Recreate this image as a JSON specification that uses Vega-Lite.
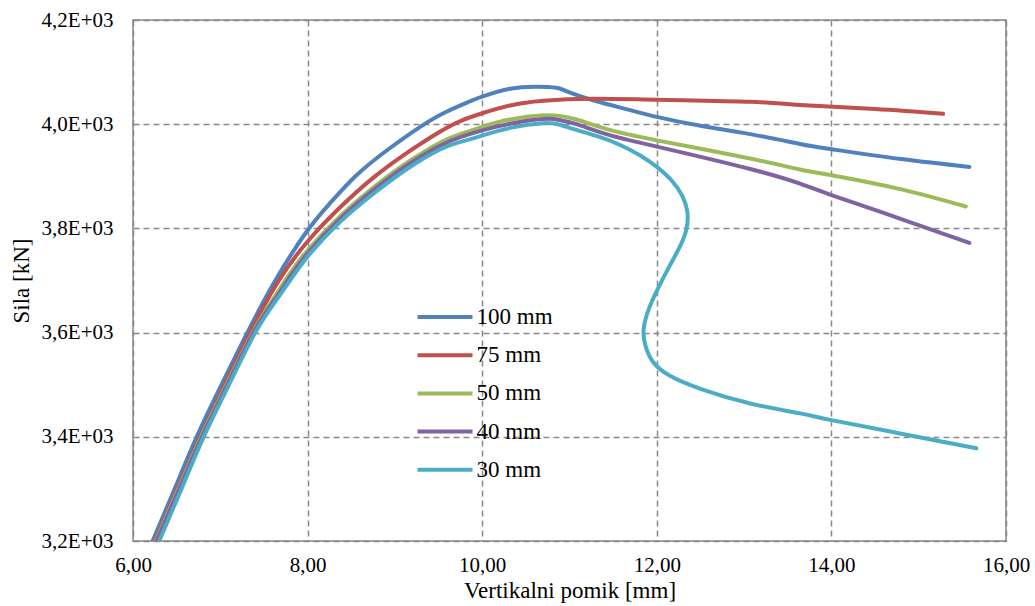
{
  "$schema": "https://vega.github.io/schema/vega-lite/v6.json",
  "width": 873,
  "height": 521,
  "autosize": {"type": "none"},
  "padding": {"left": 133, "top": 20, "right": 29, "bottom": 65},
  "background": "white",
  "config": {
    "view": {"stroke": "#888888", "strokeWidth": 1.5},
    "font": "Liberation Serif, Tinos, Times New Roman, DejaVu Serif, serif",
    "axis": {
      "domain": false,
      "ticks": false,
      "grid": true,
      "gridColor": "#888888",
      "gridDash": [6, 4],
      "gridWidth": 1.5,
      "labelFlush": false,
      "labelFont": "Liberation Serif, Tinos, Times New Roman, DejaVu Serif, serif",
      "labelFontSize": 21,
      "labelColor": "#000000",
      "titleFont": "Liberation Serif, Tinos, Times New Roman, DejaVu Serif, serif",
      "titleFontSize": 23,
      "titleFontWeight": "normal",
      "titleColor": "#000000"
    }
  },
  "data": {
    "values": [
      {"s": "100 mm", "i": 1, "x": 6.225, "y": 3200},
      {"s": "100 mm", "i": 2, "x": 6.48, "y": 3301},
      {"s": "100 mm", "i": 3, "x": 6.73, "y": 3400},
      {"s": "100 mm", "i": 4, "x": 7.02, "y": 3502},
      {"s": "100 mm", "i": 5, "x": 7.31, "y": 3600},
      {"s": "100 mm", "i": 6, "x": 7.63, "y": 3700},
      {"s": "100 mm", "i": 7, "x": 7.99, "y": 3794},
      {"s": "100 mm", "i": 8, "x": 8.26, "y": 3849},
      {"s": "100 mm", "i": 9, "x": 8.56, "y": 3902},
      {"s": "100 mm", "i": 10, "x": 8.91, "y": 3950},
      {"s": "100 mm", "i": 11, "x": 9.29, "y": 3995},
      {"s": "100 mm", "i": 12, "x": 9.59, "y": 4024},
      {"s": "100 mm", "i": 13, "x": 9.86, "y": 4044},
      {"s": "100 mm", "i": 14, "x": 10.0, "y": 4053},
      {"s": "100 mm", "i": 15, "x": 10.32, "y": 4068},
      {"s": "100 mm", "i": 16, "x": 10.62, "y": 4072},
      {"s": "100 mm", "i": 17, "x": 10.85, "y": 4070},
      {"s": "100 mm", "i": 18, "x": 10.97, "y": 4063},
      {"s": "100 mm", "i": 19, "x": 11.27, "y": 4046},
      {"s": "100 mm", "i": 20, "x": 11.65, "y": 4029},
      {"s": "100 mm", "i": 21, "x": 12.0, "y": 4014},
      {"s": "100 mm", "i": 22, "x": 12.5, "y": 3997},
      {"s": "100 mm", "i": 23, "x": 13.07, "y": 3981},
      {"s": "100 mm", "i": 24, "x": 13.64, "y": 3962},
      {"s": "100 mm", "i": 25, "x": 14.0, "y": 3952},
      {"s": "100 mm", "i": 26, "x": 14.8, "y": 3933},
      {"s": "100 mm", "i": 27, "x": 15.58, "y": 3918},

      {"s": "75 mm", "i": 1, "x": 6.25, "y": 3200},
      {"s": "75 mm", "i": 2, "x": 6.51, "y": 3300},
      {"s": "75 mm", "i": 3, "x": 6.77, "y": 3400},
      {"s": "75 mm", "i": 4, "x": 7.05, "y": 3500},
      {"s": "75 mm", "i": 5, "x": 7.34, "y": 3600},
      {"s": "75 mm", "i": 6, "x": 7.66, "y": 3697},
      {"s": "75 mm", "i": 7, "x": 7.99, "y": 3773},
      {"s": "75 mm", "i": 8, "x": 8.37, "y": 3840},
      {"s": "75 mm", "i": 9, "x": 8.75, "y": 3897},
      {"s": "75 mm", "i": 10, "x": 9.13, "y": 3944},
      {"s": "75 mm", "i": 11, "x": 9.51, "y": 3985},
      {"s": "75 mm", "i": 12, "x": 9.75, "y": 4006},
      {"s": "75 mm", "i": 13, "x": 10.0, "y": 4021},
      {"s": "75 mm", "i": 14, "x": 10.32, "y": 4036},
      {"s": "75 mm", "i": 15, "x": 10.70, "y": 4045},
      {"s": "75 mm", "i": 16, "x": 11.27, "y": 4049},
      {"s": "75 mm", "i": 17, "x": 12.0, "y": 4047},
      {"s": "75 mm", "i": 18, "x": 13.07, "y": 4043},
      {"s": "75 mm", "i": 19, "x": 13.64, "y": 4037},
      {"s": "75 mm", "i": 20, "x": 14.5, "y": 4029},
      {"s": "75 mm", "i": 21, "x": 15.28, "y": 4020},

      {"s": "50 mm", "i": 1, "x": 6.26, "y": 3200},
      {"s": "50 mm", "i": 2, "x": 6.52, "y": 3300},
      {"s": "50 mm", "i": 3, "x": 6.78, "y": 3400},
      {"s": "50 mm", "i": 4, "x": 7.07, "y": 3500},
      {"s": "50 mm", "i": 5, "x": 7.37, "y": 3600},
      {"s": "50 mm", "i": 6, "x": 7.62, "y": 3668},
      {"s": "50 mm", "i": 7, "x": 7.80, "y": 3714},
      {"s": "50 mm", "i": 8, "x": 8.01, "y": 3760},
      {"s": "50 mm", "i": 9, "x": 8.37, "y": 3823},
      {"s": "50 mm", "i": 10, "x": 8.75, "y": 3878},
      {"s": "50 mm", "i": 11, "x": 9.13, "y": 3925},
      {"s": "50 mm", "i": 12, "x": 9.51, "y": 3964},
      {"s": "50 mm", "i": 13, "x": 9.75, "y": 3981},
      {"s": "50 mm", "i": 14, "x": 10.0, "y": 3995},
      {"s": "50 mm", "i": 15, "x": 10.32, "y": 4009},
      {"s": "50 mm", "i": 16, "x": 10.70, "y": 4017},
      {"s": "50 mm", "i": 17, "x": 10.89, "y": 4016},
      {"s": "50 mm", "i": 18, "x": 11.08, "y": 4009},
      {"s": "50 mm", "i": 19, "x": 11.46, "y": 3989},
      {"s": "50 mm", "i": 20, "x": 12.0, "y": 3969},
      {"s": "50 mm", "i": 21, "x": 13.07, "y": 3934},
      {"s": "50 mm", "i": 22, "x": 13.64, "y": 3913},
      {"s": "50 mm", "i": 23, "x": 14.0, "y": 3902},
      {"s": "50 mm", "i": 24, "x": 14.8, "y": 3875},
      {"s": "50 mm", "i": 25, "x": 15.54, "y": 3842},

      {"s": "40 mm", "i": 1, "x": 6.27, "y": 3200},
      {"s": "40 mm", "i": 2, "x": 6.53, "y": 3300},
      {"s": "40 mm", "i": 3, "x": 6.79, "y": 3400},
      {"s": "40 mm", "i": 4, "x": 7.08, "y": 3500},
      {"s": "40 mm", "i": 5, "x": 7.38, "y": 3600},
      {"s": "40 mm", "i": 6, "x": 7.63, "y": 3665},
      {"s": "40 mm", "i": 7, "x": 7.82, "y": 3712},
      {"s": "40 mm", "i": 8, "x": 8.02, "y": 3756},
      {"s": "40 mm", "i": 9, "x": 8.37, "y": 3818},
      {"s": "40 mm", "i": 10, "x": 8.75, "y": 3873},
      {"s": "40 mm", "i": 11, "x": 9.13, "y": 3920},
      {"s": "40 mm", "i": 12, "x": 9.51, "y": 3958},
      {"s": "40 mm", "i": 13, "x": 9.75, "y": 3975},
      {"s": "40 mm", "i": 14, "x": 10.0, "y": 3988},
      {"s": "40 mm", "i": 15, "x": 10.32, "y": 4001},
      {"s": "40 mm", "i": 16, "x": 10.70, "y": 4010},
      {"s": "40 mm", "i": 17, "x": 10.89, "y": 4008},
      {"s": "40 mm", "i": 18, "x": 11.08, "y": 4000},
      {"s": "40 mm", "i": 19, "x": 11.46, "y": 3979},
      {"s": "40 mm", "i": 20, "x": 12.0, "y": 3957},
      {"s": "40 mm", "i": 21, "x": 13.07, "y": 3914},
      {"s": "40 mm", "i": 22, "x": 13.64, "y": 3886},
      {"s": "40 mm", "i": 23, "x": 14.0, "y": 3864},
      {"s": "40 mm", "i": 24, "x": 14.8, "y": 3818},
      {"s": "40 mm", "i": 25, "x": 15.58, "y": 3772},

      {"s": "30 mm", "i": 1, "x": 6.30, "y": 3200},
      {"s": "30 mm", "i": 2, "x": 6.555, "y": 3300},
      {"s": "30 mm", "i": 3, "x": 6.81, "y": 3400},
      {"s": "30 mm", "i": 4, "x": 7.10, "y": 3500},
      {"s": "30 mm", "i": 5, "x": 7.40, "y": 3600},
      {"s": "30 mm", "i": 6, "x": 7.64, "y": 3662},
      {"s": "30 mm", "i": 7, "x": 7.84, "y": 3710},
      {"s": "30 mm", "i": 8, "x": 8.03, "y": 3752},
      {"s": "30 mm", "i": 9, "x": 8.37, "y": 3812},
      {"s": "30 mm", "i": 10, "x": 8.75, "y": 3866},
      {"s": "30 mm", "i": 11, "x": 9.13, "y": 3913},
      {"s": "30 mm", "i": 12, "x": 9.51, "y": 3951},
      {"s": "30 mm", "i": 13, "x": 9.75, "y": 3966},
      {"s": "30 mm", "i": 14, "x": 10.0, "y": 3978},
      {"s": "30 mm", "i": 15, "x": 10.32, "y": 3993},
      {"s": "30 mm", "i": 16, "x": 10.70, "y": 4002},
      {"s": "30 mm", "i": 17, "x": 10.89, "y": 3999},
      {"s": "30 mm", "i": 18, "x": 11.08, "y": 3989},
      {"s": "30 mm", "i": 19, "x": 11.35, "y": 3975},
      {"s": "30 mm", "i": 20, "x": 11.58, "y": 3960},
      {"s": "30 mm", "i": 21, "x": 11.81, "y": 3940},
      {"s": "30 mm", "i": 22, "x": 12.0, "y": 3918},
      {"s": "30 mm", "i": 23, "x": 12.17, "y": 3892},
      {"s": "30 mm", "i": 24, "x": 12.29, "y": 3863},
      {"s": "30 mm", "i": 25, "x": 12.35, "y": 3832},
      {"s": "30 mm", "i": 26, "x": 12.34, "y": 3799},
      {"s": "30 mm", "i": 27, "x": 12.27, "y": 3767},
      {"s": "30 mm", "i": 28, "x": 12.15, "y": 3729},
      {"s": "30 mm", "i": 29, "x": 12.02, "y": 3687},
      {"s": "30 mm", "i": 30, "x": 11.91, "y": 3646},
      {"s": "30 mm", "i": 31, "x": 11.85, "y": 3607},
      {"s": "30 mm", "i": 32, "x": 11.87, "y": 3575},
      {"s": "30 mm", "i": 33, "x": 11.96, "y": 3543},
      {"s": "30 mm", "i": 34, "x": 12.15, "y": 3517},
      {"s": "30 mm", "i": 35, "x": 12.5, "y": 3492},
      {"s": "30 mm", "i": 36, "x": 13.07, "y": 3464},
      {"s": "30 mm", "i": 37, "x": 13.64, "y": 3445},
      {"s": "30 mm", "i": 38, "x": 14.0, "y": 3432},
      {"s": "30 mm", "i": 39, "x": 14.8, "y": 3406},
      {"s": "30 mm", "i": 40, "x": 15.66, "y": 3378}
    ]
  },
  "mark": {"type": "line", "strokeWidth": 4, "interpolate": "natural", "strokeCap": "round", "clip": true},
  "encoding": {
    "x": {
      "field": "x", "type": "quantitative",
      "scale": {"domain": [6, 16], "nice": false, "zero": false},
      "axis": {
        "values": [6, 8, 10, 12, 14, 16],
        "labelExpr": "replace(format(datum.value, '.2f'), '.', ',')",
        "labelPadding": 13,
        "title": "Vertikalni pomik [mm]",
        "titlePadding": 4
      }
    },
    "y": {
      "field": "y", "type": "quantitative",
      "scale": {"domain": [3200, 4200], "nice": false, "zero": false},
      "axis": {
        "values": [3200, 3400, 3600, 3800, 4000, 4200],
        "labelExpr": "replace(format(datum.value / 1000, '.1f'), '.', ',') + 'E+03'",
        "labelPadding": 20,
        "title": "Sila [kN]",
        "titlePadding": 8
      }
    },
    "color": {
      "field": "s", "type": "nominal",
      "scale": {
        "domain": ["100 mm", "75 mm", "50 mm", "40 mm", "30 mm"],
        "range": ["#4F81BD", "#C0504D", "#9BBB59", "#8064A2", "#4BACC6"]
      },
      "legend": {
        "orient": "none",
        "legendX": 286,
        "legendY": 271,
        "title": null,
        "symbolType": "M-1.146,0H1.146",
        "symbolSize": 2304,
        "symbolStrokeWidth": 4,
        "labelFont": "Liberation Serif, Tinos, Times New Roman, DejaVu Serif, serif",
        "labelFontSize": 23,
        "labelColor": "#000000",
        "labelOffset": 5.5,
        "rowPadding": 0.2
      }
    },
    "order": {"field": "i", "type": "quantitative"}
  }
}
